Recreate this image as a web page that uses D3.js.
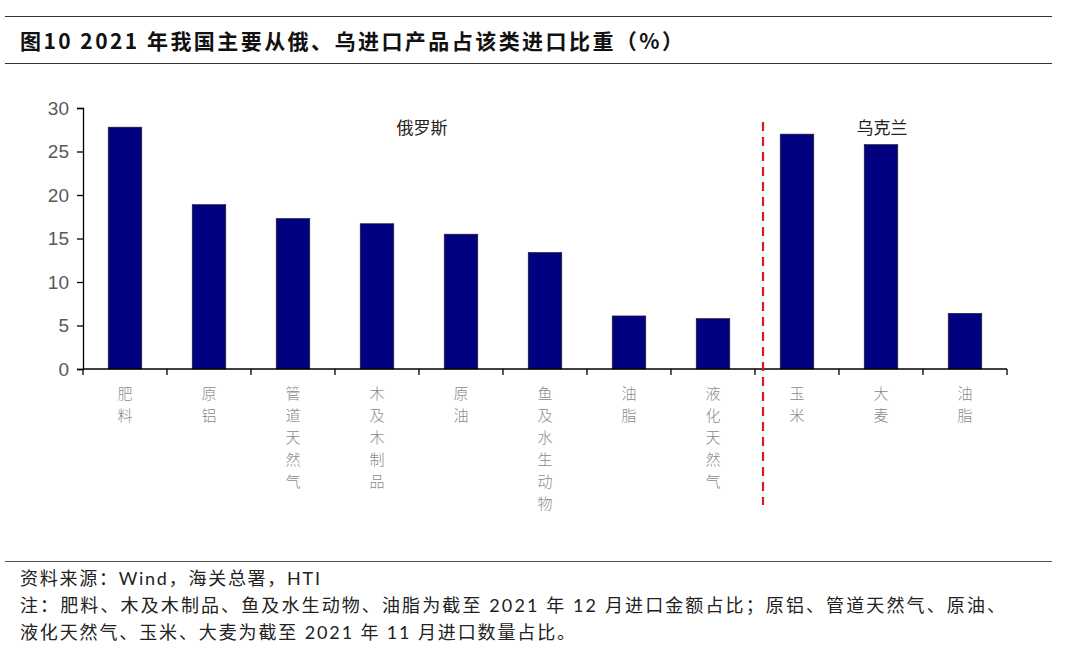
<!DOCTYPE html>
<html><head><meta charset="utf-8">
<script src="https://cdn.jsdelivr.net/npm/d3@7"></script>
<style>body{margin:0;background:#fff}svg{display:block}</style>
</head><body>
<svg id="c" width="1080" height="663"></svg>
<script>
const categories = ["肥料","原铝","管道天然气","木及木制品","原油","鱼及水生动物","油脂","液化天然气","玉米","大麦","油脂 "];
const values = [27.8,18.9,17.3,16.7,15.5,13.4,6.1,5.8,27.0,25.8,6.4];
const yTicks = [0,5,10,15,20,25,30];
const groups = ["俄罗斯","乌克兰"];
const title = "图10 2021 年我国主要从俄、乌进口产品占该类进口比重（%）";
const notes = ["资料来源：Wind，海关总署，HTI",
 "注：肥料、木及木制品、鱼及水生动物、油脂为截至 2021 年 12 月进口金额占比；原铝、管道天然气、原油、",
 "液化天然气、玉米、大麦为截至 2021 年 11 月进口数量占比。"];

const svg = d3.select("#c");
const cjk = "'Noto Sans CJK SC','Noto Sans',sans-serif";
// header lines
svg.append("line").attr("x1",5).attr("x2",1052).attr("y1",16.5).attr("y2",16.5).attr("stroke","#333").attr("stroke-width",1.2);
svg.append("line").attr("x1",5).attr("x2",1052).attr("y1",63.5).attr("y2",63.5).attr("stroke","#333").attr("stroke-width",1.2);
svg.append("text").attr("x",20).attr("y",49).attr("font-family",cjk).attr("font-weight","bold").attr("font-size",21)
  .attr("fill","#111").attr("textLength",663).attr("lengthAdjust","spacing").text(title);

const x = d3.scaleBand().domain(d3.range(categories.length)).range([83,1007]).paddingInner(0.6).paddingOuter(0.3);
const y = d3.scaleLinear().domain([0,30]).range([369,108]);

svg.append("g").selectAll("rect.bar").data(values).join("rect").attr("class","bar")
 .attr("x",(d,i)=>x(i)).attr("width",x.bandwidth())
 .attr("y",d=>y(d)).attr("height",d=>y(0)-y(d))
 .attr("fill","#000080").attr("stroke","#222").attr("stroke-width",0.6);

// y axis
const ya = svg.append("g").attr("transform","translate(83,0)").call(d3.axisLeft(y).tickValues(yTicks).tickSize(6).tickPadding(8));
ya.select(".domain").attr("stroke","#000").attr("stroke-width",1.3);
ya.selectAll(".tick line").attr("stroke","#000").attr("stroke-width",1.3);
ya.selectAll("text").attr("font-family","Arial,'Liberation Sans',sans-serif").attr("font-size",19).attr("fill","#595959");

// x axis
const step = x.step();
const xa = svg.append("g").attr("transform","translate(0,369)");
xa.append("line").attr("x1",83).attr("x2",1007).attr("stroke","#000").attr("stroke-width",1.6);
xa.selectAll("line.t").data(d3.range(categories.length+1)).join("line").attr("class","t")
 .attr("x1",i=>83+i*step).attr("x2",i=>83+i*step).attr("y1",0).attr("y2",6).attr("stroke","#000").attr("stroke-width",1.3);

// vertical category labels, one text per character
const lab = svg.append("g");
categories.forEach((c,i)=>{
  const cx = x(i)+x.bandwidth()/2;
  Array.from(c.trim()).forEach((ch,k)=>{
    lab.append("text").attr("x",cx).attr("y",399+k*22).attr("text-anchor","middle")
      .attr("font-family",cjk).attr("font-size",15).attr("font-weight",300).attr("fill","#8a8a8a").text(ch);
  });
});

// divider
const divX = 83 + 8*step + 8;
svg.append("line").attr("x1",divX).attr("x2",divX).attr("y1",122).attr("y2",505)
 .attr("stroke","#d71920").attr("stroke-width",2.2).attr("stroke-dasharray","9,6");

// group labels
const gpos = [422, 882];
groups.forEach((name,i)=>{
  svg.append("text").attr("x",gpos[i]).attr("y",134).attr("text-anchor","middle").attr("font-family",cjk).attr("font-size",17).attr("fill","#222").text(name);
});

// footer
svg.append("line").attr("x1",5).attr("x2",1052).attr("y1",561.5).attr("y2",561.5).attr("stroke","#555").attr("stroke-width",1.2);
const noteLen = [300, 985, 555];
notes.forEach((n,i)=>{
  svg.append("text").attr("x",20).attr("y",585+i*27).attr("font-family","Lato,"+cjk).attr("font-size",18).attr("fill","#222")
    .attr("textLength",noteLen[i]).attr("lengthAdjust","spacing").text(n);
});
</script>
</body></html>
